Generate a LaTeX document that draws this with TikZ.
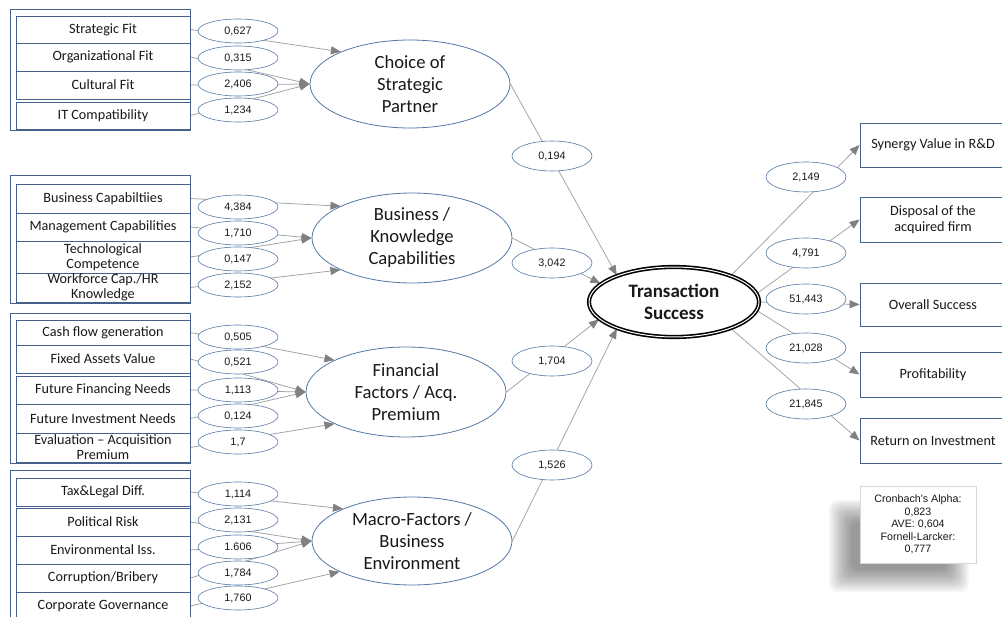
\documentclass[tikz,border=0pt]{standalone}
\usepackage{fontspec}
\setmainfont{Carlito}
\newfontfamily\arialf{Liberation Sans}
\usetikzlibrary{shapes.geometric,arrows.meta,backgrounds}
\definecolor{boxc}{RGB}{68,97,138}
\definecolor{ovc}{RGB}{84,120,165}
\definecolor{linec}{RGB}{160,160,160}
\definecolor{arrc}{RGB}{128,128,128}
\definecolor{txt}{RGB}{25,25,25}
\definecolor{crb}{RGB}{215,215,215}
\begin{document}
\begin{tikzpicture}[x=1pt,y=-1pt,
  ind/.style={draw=boxc, line width=0.8pt, fill=white, text=txt, font=\fontsize{14.2}{15}\selectfont, align=center, inner sep=0pt, minimum width=174pt},
  frm/.style={draw=boxc, line width=0.8pt},
  wt/.style={ellipse, draw=ovc, line width=0.6pt, fill=white, text=txt, minimum width=80pt, minimum height=24pt, inner sep=0pt, font=\arialf\fontsize{10.8}{12}\selectfont},
  wtb/.style={wt, minimum height=30pt},
  lat/.style={ellipse, draw=ovc, line width=0.8pt, fill=white, minimum width=200pt, minimum height=88pt, inner sep=0pt},
  lt/.style={text=txt, align=center, inner sep=0pt, font=\fontsize{18.6}{22}\selectfont},
  tsn/.style={ellipse, draw=black, line width=1.6pt, double=white, double distance=1pt, fill=white, minimum width=170pt, minimum height=70pt, inner sep=0pt, align=center, text=txt, font=\bfseries\fontsize{19}{22}\selectfont},
  outb/.style={draw=boxc, fill=white, line width=0.8pt, minimum width=146pt, minimum height=45pt, inner sep=0pt, align=center, text=txt, font=\fontsize{14.2}{16}\selectfont},
  con/.style={draw=linec, line width=0.75pt},
  arr/.style={con, -{Triangle[length=10pt,width=8pt,color=arrc]}}
]
\path[use as bounding box] (0,0) rectangle (1002,617);
\clip (0,0) rectangle (1002,617);

% ---------- group 1 ----------
\draw[frm] (10,9) rectangle (190,130);
\node[ind, minimum height=27pt] (a1) at (103,29.5) {Strategic Fit};
\node[ind, minimum height=28pt] (a2) at (103,57) {Organizational Fit};
\node[ind, minimum height=28pt] (a3) at (103,85) {Cultural Fit};
\node[ind, minimum height=27pt] (a4) at (103,115.5) {IT Compatibility};
\node[wt] (wa1) at (238,31) {0,627};
\node[wt] (wa2) at (238,58) {0,315};
\node[wt] (wa3) at (238,84) {2,406};
\node[wt] (wa4) at (238,110) {1,234};
\node[lat] (L1) at (410,84) {};
\node[lt] (L1t) at (L1) {Choice of\\Strategic\\Partner};

% ---------- group 2 ----------
\draw[frm] (10,175) rectangle (190,303);
\node[ind, minimum height=29pt] (b1) at (103,198.5) {Business Capabiltiies};
\node[ind, minimum height=28pt] (b2) at (103,227) {Management Capabilities};
\node[ind, minimum height=32pt] (b3) at (103,257) {Technological\\Competence};
\node[ind, minimum height=29pt] (b4) at (103,287.5) {Workforce Cap./HR\\Knowledge};
\node[wt] (wb1) at (238,207) {4,384};
\node[wt] (wb2) at (238,233) {1,710};
\node[wt] (wb3) at (238,259) {0,147};
\node[wt] (wb4) at (238,285) {2,152};
\node[lat, minimum height=90pt] (L2) at (412,238) {};
\node[lt] (L2t) at (L2) {Business /\\Knowledge\\Capabilities};

% ---------- group 3 ----------
\draw[frm] (10,313) rectangle (190,463);
\node[ind, minimum height=25pt] (c1) at (103,332.5) {Cash flow generation};
\node[ind, minimum height=28pt] (c2) at (103,359) {Fixed Assets Value};
\node[ind, minimum height=28pt] (c3) at (103,390) {Future Financing Needs};
\node[ind, minimum height=29pt] (c4) at (103,418.5) {Future Investment Needs};
\node[ind, minimum height=29pt] (c5) at (103,447.5) {Evaluation – Acquisition\\Premium};
\node[wt] (wc1) at (238,337) {0,505};
\node[wt] (wc2) at (238,362) {0,521};
\node[wt] (wc3) at (238,390) {1,113};
\node[wt] (wc4) at (238,416) {0,124};
\node[wt] (wc5) at (238,442) {1,7};
\node[lat, minimum height=90pt] (L3) at (406,392) {};
\node[lt] (L3t) at (L3) {Financial\\Factors / Acq.\\Premium};

% ---------- group 4 ----------
\draw[frm] (10,470) rectangle (190,625);
\node[ind, minimum height=28pt] (d1) at (103,492) {Tax\&Legal Diff.};
\node[ind, minimum height=28pt] (d2) at (103,522) {Political Risk};
\node[ind, minimum height=28pt] (d3) at (103,550) {Environmental Iss.};
\node[ind, minimum height=28pt] (d4) at (103,578) {Corruption/Bribery};
\node[ind, minimum height=28pt] (d5) at (103,606) {Corporate Governance};
\node[wt] (wd1) at (238,494) {1,114};
\node[wt] (wd2) at (238,520) {2,131};
\node[wt] (wd3) at (238,547) {1.606};
\node[wt] (wd4) at (238,573) {1,784};
\node[wt] (wd5) at (238,598) {1,760};
\node[lat] (L4) at (412,541) {};
\node[lt] (L4t) at (L4) {Macro-Factors /\\Business\\Environment};

% ---------- centre ----------
\node[tsn] (ts) at (674,302) {Transaction\\Success};
\node[wtb] (m1) at (552,156) {0,194};
\node[wtb] (m2) at (552,263) {3,042};
\node[wtb] (m3) at (552,361) {1,704};
\node[wtb] (m4) at (552,465) {1,526};

% ---------- outputs ----------
\node[outb, minimum height=44pt] (o1) at (933,145) {Synergy Value in R\&D};
\node[outb] (o2) at (933,219.5) {Disposal of the\\acquired firm};
\node[outb, minimum height=43pt] (o3) at (933,304.5) {Overall Success};
\node[outb] (o4) at (933,374.5) {Profitability};
\node[outb] (o5) at (933,440.5) {Return on Investment};
\node[wtb] (p1) at (806,177) {2,149};
\node[wtb] (p2) at (806,253) {4,791};
\node[wtb] (p3) at (806,299) {51,443};
\node[wtb] (p4) at (806,348) {21,028};
\node[wtb] (p5) at (806,404) {21,845};

% ---------- note with shadow ----------
\foreach \i in {0,...,13} {
  \fill[black, opacity=0.035, rounded corners=8pt]
    (899-70+\i*1.7, 546-46+\i*1.7) rectangle (899+70-\i*1.7, 546+46-\i*1.7);
}
\node[draw=crb, line width=0.5pt, fill=white, minimum width=116pt, minimum height=77pt, inner sep=0pt, align=center, text=txt, font=\arialf\fontsize{10.7}{12.6}\selectfont] (cr) at (918,524.5) {Cronbach's Alpha:\\0,823\\AVE:~0,604\\Fornell-Larcker:\\0,777};

% ---------- connectors ----------
\begin{scope}[on background layer]
\draw[arr] (a1.east) -- (L1.155);
\draw[arr] (a2.east) -- (L1.180);
\draw[arr] (a3.east) -- (L1.180);
\draw[arr] (a4.east) -- (L1.180);
\draw[arr] (b1.east) -- (L2.156);
\draw[arr] (b2.east) -- (L2.180);
\draw[arr] (b3.east) -- (L2.180);
\draw[arr] (b4.east) -- (L2.204);
\draw[arr] (c1.east) -- (L3.156);
\draw[arr] (c2.east) -- (L3.180);
\draw[arr] (c3.east) -- (L3.180);
\draw[arr] (c4.east) -- (L3.180);
\draw[arr] (c5.east) -- (L3.204);
\draw[arr] (d1.east) -- (L4.155);
\draw[arr] (d2.east) -- (L4.180);
\draw[arr] (d3.east) -- (L4.180);
\draw[arr] (d4.east) -- (L4.180);
\draw[arr] (d5.east) -- (L4.203);
\draw[arr] (L1.east) -- (ts.155);
\draw[arr] (L2.east) -- (ts.166);
\draw[arr] (L3.east) -- (ts.193);
\draw[arr] (L4.east) -- (ts.205);
\draw[arr] (ts.25) -- (o1.west);
\draw[arr] (ts.6) -- (o2.west);
\draw[arr] (ts.0) -- (o3.west);
\draw[arr] (ts.-6) -- (o4.west);
\draw[arr] (ts.-25) -- (o5.west);
\end{scope}
\end{tikzpicture}
\end{document}
